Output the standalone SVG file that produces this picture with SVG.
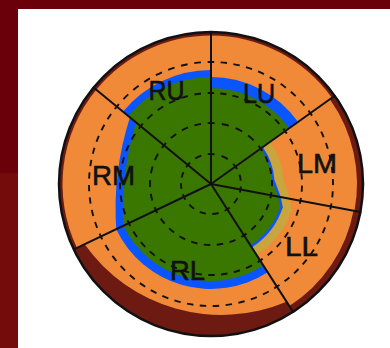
<svg xmlns="http://www.w3.org/2000/svg" width="390" height="348" viewBox="0 0 390 348">
<style>
.or{fill:#f08a38}
.kh{fill:#c9a53d}
.bl{fill:#0a55ff}
.gr{fill:#3a7700}
.d{fill:none;stroke:#111;stroke-width:1.9;stroke-dasharray:6.5 6.5;stroke-dashoffset:3.25}
.sp{stroke:#111;stroke-width:2;stroke-linecap:round}
.lbl{font-family:"Liberation Sans",Arial,sans-serif;font-size:28px;fill:#111;stroke:#111;stroke-width:0.6;text-anchor:middle}
</style>
<rect width="390" height="348" fill="#ffffff"/>
<rect x="0" y="0" width="390" height="9" fill="#6a000a"/>
<rect x="0" y="0" width="18" height="173" fill="#6a000a"/>
<rect x="0" y="173" width="18" height="175" fill="#740c0c"/>
<circle cx="211" cy="184" r="152" fill="#6d1a12" stroke="#111" stroke-width="2.5"/>
<g id="LU">
<path class="or" d="M211 184L211 35.5A148.5 148.5 0 0 1 331.89 97.77Z"/>
<path class="bl" d="M211 184L211 77A107 107 0 0 1 298.1 121.9Z"/>
<path class="gr" d="M211 184L211 88A96 96 0 0 1 289.2 128.3Z"/>
<path class="d" pathLength="26" d="M211 154A30 30 0 0 1 235.42 166.58"/>
<path class="d" pathLength="52" d="M211 123A61 61 0 0 1 260.66 148.58"/>
<path class="d" pathLength="91" d="M211 93A91 91 0 0 1 285.08 131.16"/>
<path class="d" pathLength="117" d="M211 62A122 122 0 0 1 310.32 113.15"/>
<text class="lbl" x="259" y="103" textLength="32" lengthAdjust="spacingAndGlyphs">LU</text>
</g>
<g id="LM">
<path class="or" d="M211 184L329.86 99.22A146 146 0 0 1 354.5 210.86Z"/>
<path class="kh" d="M211 184L270.02 141.9A72.5 72.5 0 0 1 283.32 178.94L289.63 198.72Z"/>
<path class="bl" d="M211 184L262.7 147.1A63.5 63.5 0 0 1 274.35 179.57L280.79 197.06Z"/>
<path class="gr" d="M211 184L260.7 148.6A61 61 0 0 1 271.85 179.74L278.33 196.6Z"/>
<path class="d" pathLength="26" d="M235.42 166.58A30 30 0 0 1 240.49 189.52"/>
<path class="d" pathLength="52" d="M260.66 148.58A61 61 0 0 1 270.96 195.22"/>
<path class="d" pathLength="78" d="M285.08 131.16A91 91 0 0 1 300.44 200.74"/>
<path class="d" pathLength="104" d="M310.32 113.15A122 122 0 0 1 330.91 206.45"/>
<text class="lbl" x="317" y="173" textLength="40" lengthAdjust="spacingAndGlyphs">LM</text>
</g>
<g id="LL">
<path class="or" d="M211 184L353.52 210.68A145 145 0 0 1 289.33 306.02Z"/>
<path class="kh" d="M211 184L289.63 198.72L291.36 210.11A84.5 84.5 0 0 1 256.65 255.11Z"/>
<path class="bl" d="M211 184L280.79 197.06L282.8 207.33A75.5 75.5 0 0 1 251.79 247.53Z"/>
<path class="gr" d="M211 184L278.33 196.6L280.43 206.56A73 73 0 0 1 250.43 245.43Z"/>
<path class="d" pathLength="26" d="M240.49 189.52A30 30 0 0 1 227.21 209.25"/>
<path class="d" pathLength="52" d="M270.96 195.22A61 61 0 0 1 243.95 235.33"/>
<path class="d" pathLength="78" d="M300.44 200.74A91 91 0 0 1 260.16 260.58"/>
<path class="d" pathLength="104" d="M330.91 206.45A122 122 0 0 1 276.9 286.66"/>
<text class="lbl" x="301.5" y="256" textLength="33" lengthAdjust="spacingAndGlyphs">LL</text>
</g>
<g id="RL">
<path class="or" d="M211 184L286.63 301.81A168 168 0 0 1 84.64 244.27Z"/>
<path class="bl" d="M211 184L267.72 272.36A105 105 0 0 1 116.23 229.2Z"/>
<path class="gr" d="M211 184L263.4 265.6A97 97 0 0 1 123.45 225.76Z"/>
<path class="d" pathLength="52" d="M227.21 209.25A30 30 0 0 1 183.92 196.92"/>
<path class="d" pathLength="104" d="M243.95 235.33A61 61 0 0 1 155.94 210.26"/>
<path class="d" pathLength="156" d="M260.16 260.58A91 91 0 0 1 128.86 223.18"/>
<path class="d" pathLength="208" d="M276.9 286.66A122 122 0 0 1 100.88 236.52"/>
<text class="lbl" x="187.5" y="280" textLength="35" lengthAdjust="spacingAndGlyphs">RL</text>
</g>
<g id="RM">
<path class="or" d="M211 184L76.96 247.93A148.5 148.5 0 0 1 96.25 89.75Z"/>
<path class="bl" d="M211 184L116.23 229.2A300 300 0 0 1 129.9 117.4Z"/>
<path class="gr" d="M211 184L123.45 225.76A300 300 0 0 1 136.05 122.43Z"/>
<path class="d" pathLength="39" d="M183.92 196.92A30 30 0 0 1 187.82 164.96"/>
<path class="d" pathLength="65" d="M155.94 210.26A61 61 0 0 1 163.87 145.28"/>
<path class="d" pathLength="104" d="M128.86 223.18A91 91 0 0 1 140.68 126.24"/>
<path class="d" pathLength="143" d="M100.88 236.52A122 122 0 0 1 116.73 106.57"/>
<text class="lbl" x="113.5" y="185" textLength="43" lengthAdjust="spacingAndGlyphs">RM</text>
</g>
<g id="RU">
<path class="or" d="M211 184L96.25 89.75A148.5 148.5 0 0 1 211 35.5Z"/>
<path class="bl" d="M211 184L122.91 111.64A114 114 0 0 1 211 70Z"/>
<path class="gr" d="M211 184L128.32 116.09A107 107 0 0 1 211 77Z"/>
<path class="d" pathLength="26" d="M187.82 164.96A30 30 0 0 1 211 154"/>
<path class="d" pathLength="52" d="M163.87 145.28A61 61 0 0 1 211 123"/>
<path class="d" pathLength="78" d="M140.68 126.24A91 91 0 0 1 211 93"/>
<path class="d" pathLength="104" d="M116.73 106.57A122 122 0 0 1 211 62"/>
<text class="lbl" x="166.5" y="100" textLength="36" lengthAdjust="spacingAndGlyphs">RU</text>
</g>
<g id="spokes">
<line class="sp" x1="211" y1="184" x2="211" y2="32"/>
<line class="sp" x1="211" y1="184" x2="334.74" y2="95.73"/>
<line class="sp" x1="211" y1="184" x2="360.4" y2="211.97"/>
<line class="sp" x1="211" y1="184" x2="293.11" y2="311.91"/>
<line class="sp" x1="211" y1="184" x2="73.8" y2="249.44"/>
<line class="sp" x1="211" y1="184" x2="93.55" y2="87.53"/>
</g>
</svg>
